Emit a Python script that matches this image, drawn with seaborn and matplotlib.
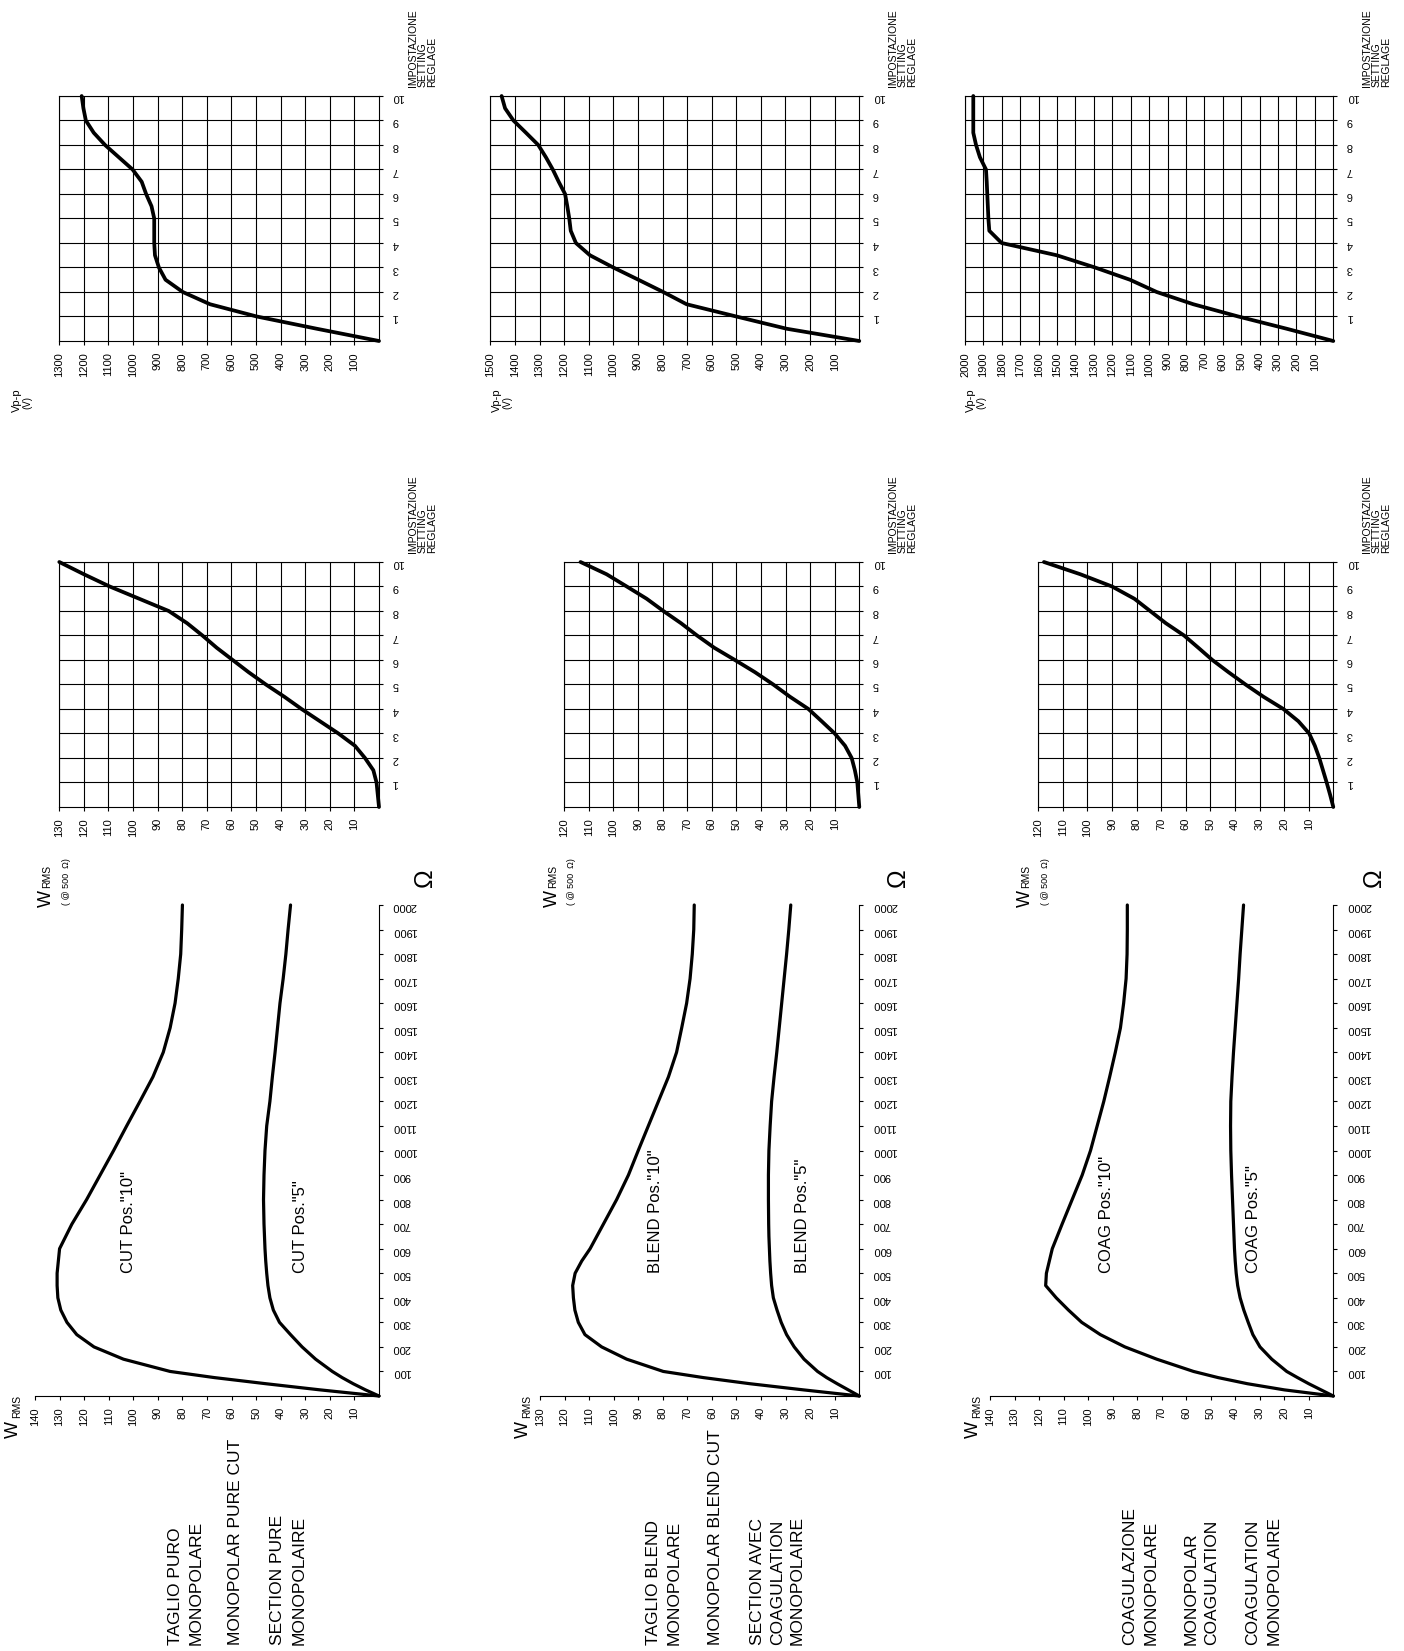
import matplotlib
matplotlib.use("Agg")
import matplotlib.pyplot as plt
import pandas as pd
import seaborn as sns

# ---------------- data ----------------
settings = [0, 0.5, 1, 1.5, 2, 2.5, 3, 3.5, 4, 4.5, 5, 5.5, 6, 6.5, 7, 7.5, 8, 8.5, 9, 9.5, 10]

cut_vpp = [0, 253, 497, 687, 798, 868, 895, 911, 914, 914, 914, 925, 947, 965, 1002, 1058, 1114, 1160, 1192, 1202, 1209]
blend_vpp = [0, 295, 500, 702, 797, 898, 1000, 1095, 1152, 1173, 1179, 1187, 1196, 1222, 1246, 1274, 1305, 1355, 1406, 1440, 1454]
coag_vpp = [0, 253, 516, 760, 959, 1104, 1294, 1502, 1801, 1868, 1873, 1876, 1879, 1882, 1886, 1919, 1940, 1955, 1955, 1955, 1955]

cut_w_set = [0, 0.5, 1.0, 2.3, 5.7, 9.8, 16.5, 24, 31.5, 38.5, 46, 53, 59.5, 66, 71.8, 78, 85.5, 97.5, 109.5, 120, 130]
blend_w_set = [0, 0.4, 0.8, 1.8, 3.1, 5.8, 10, 15.3, 20.7, 28.2, 35, 42.4, 50.6, 59, 66, 72.5, 79.7, 86.5, 94.6, 102.8, 113.4]
coag_w_set = [0, 1.3, 2.7, 4.2, 5.7, 7.5, 9.8, 14.2, 20.3, 28.4, 35.7, 42.6, 49.2, 54.9, 60.7, 68.1, 74.5, 80.9, 90, 102.9, 117.7]

ohms = [0, 25, 50, 75, 100, 150, 200, 250, 300, 350, 400, 450, 500, 550, 600, 650, 700,
        800, 900, 1000, 1100, 1200, 1300, 1400, 1500, 1600, 1700, 1800, 1900, 2000]

cut_w_pos10 = [0, 24, 46, 67, 85, 104, 116, 123, 127, 129.5, 130.7, 131, 131, 130.5, 130, 127.5, 125,
               119, 113.5, 108, 102.7, 97.3, 92, 87.8, 85, 83, 81.7, 80.7, 80.3, 80]
cut_w_pos5 = [0, 5.5, 10.5, 15, 19, 25.8, 31.3, 36, 40.5, 43, 44.4, 45.2, 45.7, 46.1, 46.4, 46.6, 46.8,
              47, 46.8, 46.4, 45.7, 44.4, 43.4, 42.3, 41.3, 40.3, 39, 37.9, 37, 36]
blend_w_pos10 = [0, 22.8, 44.5, 63.5, 79.8, 94.7, 104.9, 111.7, 114.4, 115.8, 116.4, 116.7, 115.7, 113, 109.6, 106.9, 104.2,
                 98.8, 94, 90, 85.9, 81.8, 77.7, 74.4, 72.3, 70.3, 68.9, 68, 67.4, 67.2]
blend_w_pos5 = [0, 4.5, 9, 13.3, 17, 22.5, 26.5, 29.6, 31.8, 33.5, 35, 35.7, 36.1, 36.4, 36.6, 36.8, 36.9,
                37, 37, 36.8, 36.3, 35.7, 34.7, 33.6, 32.6, 31.6, 30.6, 29.6, 28.7, 27.9]
coag_w_pos10 = [0, 20, 35, 47, 57, 72, 85, 95, 102.6, 108, 113, 117.3, 117, 115.8, 114.6, 112.6, 110.6,
                106.5, 102.4, 99, 96.3, 93.6, 91.2, 88.9, 86.8, 85.5, 84.5, 84.1, 84, 84]
coag_w_pos5 = [0, 5, 10, 14.6, 19, 25.1, 29.9, 32.8, 34.7, 36.5, 38, 39, 39.6, 40, 40.3, 40.5, 40.7,
               41.1, 41.5, 41.8, 41.9, 41.8, 41.3, 40.7, 40, 39.3, 38.6, 38, 37.3, 36.6]

vpp_max = [1300, 1500, 2000]
w_set_max = [130, 120, 120]
w_rms_max = [140, 130, 140]

curve_names_10 = ['CUT Pos."10"', 'BLEND Pos."10"', 'COAG Pos."10"']
curve_names_5 = ['CUT Pos."5"', 'BLEND Pos."5"', 'COAG Pos."5"']

mode_texts = [
    ["TAGLIO PURO", "MONOPOLARE", "MONOPOLAR PURE CUT", "SECTION PURE", "MONOPOLAIRE"],
    ["TAGLIO BLEND", "MONOPOLARE", "MONOPOLAR BLEND CUT", "SECTION AVEC", "COAGULATION", "MONOPOLAIRE"],
    ["COAGULAZIONE", "MONOPOLARE", "MONOPOLAR", "COAGULATION", "COAGULATION", "MONOPOLAIRE"],
]
setting_label = ["IMPOSTAZIONE", "SETTING", "REGLAGE"]

vpp_series = [cut_vpp, blend_vpp, coag_vpp]
wset_series = [cut_w_set, blend_w_set, coag_w_set]
pos10_series = [cut_w_pos10, blend_w_pos10, coag_w_pos10]
pos5_series = [cut_w_pos5, blend_w_pos5, coag_w_pos5]

# ---------------- layout (pixels) ----------------
W_PX, H_PX, DPI = 1404, 1651, 100
strip_right = [379.0, 859.3, 1333.3]
vpp_left = [59.3, 490.3, 965.0]
wset_left = [59.3, 564.3, 1038.3]
rms_left = [35.0, 540.0, 990.0]
VPP_TB = (96, 341)
WSET_TB = (562, 807)
RMS_TB = (905, 1396)

text_x = [
    [175, 196, 236, 278, 299],
    [653, 674, 715, 757, 778, 797],
    [1130, 1151, 1191, 1212, 1253, 1274],
]
label_w10 = [102, 83, 92.5]
label_w5 = [32, 23, 32.7]

sns.set_theme(style="ticks", rc={
    "axes.edgecolor": "black", "xtick.color": "black", "ytick.color": "black",
    "text.color": "black", "axes.labelcolor": "black", "axes.linewidth": 0.8,
})
plt.rcParams['font.family'] = ['Liberation Sans', 'DejaVu Sans']

fig = plt.figure(figsize=(W_PX / DPI, H_PX / DPI), dpi=DPI)
fig.patch.set_facecolor("white")


def fx(x):
    return x / W_PX


def fy(y):
    return 1 - y / H_PX


def add_ax(left, top, right, bottom):
    return fig.add_axes([fx(left), fy(bottom), (right - left) / W_PX, (bottom - top) / H_PX])


def ftext(x, y, s, size, ha="center", va="bottom", rot=90):
    fig.text(fx(x), fy(y), s, fontsize=size, ha=ha, va=va, rotation=rot, color="black")


def grid_chart(ax, xvals, xmax, xstep):
    df = pd.DataFrame({"x": xvals, "y": settings})
    sns.lineplot(data=df, x="x", y="y", ax=ax, estimator=None, sort=False, color="black",
                 lw=2.7, solid_capstyle="round", solid_joinstyle="round", zorder=3, clip_on=False)
    ax.set_xlim(xmax, 0)
    ax.set_ylim(0, 10)
    xt = list(range(xstep, xmax + 1, xstep))
    ax.set_xticks(xt)
    ax.set_xticklabels([str(v) for v in xt])
    yt = list(range(1, 11))
    ax.set_yticks(yt)
    ax.set_yticklabels([str(v) for v in yt])
    ax.yaxis.tick_right()
    ax.tick_params(axis="x", direction="out", length=3, width=0.8, pad=5, labelsize=8, labelrotation=90)
    ax.tick_params(axis="y", direction="out", length=3, width=0.8, pad=6.5, labelsize=8, labelrotation=180,
                   right=True, left=False, labelright=True, labelleft=False)
    ax.grid(True, color="black", lw=0.8)
    ax.set_axisbelow(True)
    for s in ax.spines.values():
        s.set_visible(True)
        s.set_color("black")
        s.set_linewidth(0.8)
    ax.set_xlabel("")
    ax.set_ylabel("")


for i in range(3):
    R = strip_right[i]
    # --- Vp-p vs setting ---
    ax1 = add_ax(vpp_left[i], VPP_TB[0], R, VPP_TB[1])
    grid_chart(ax1, vpp_series[i], vpp_max[i], 100)
    # --- W vs setting ---
    ax2 = add_ax(wset_left[i], WSET_TB[0], R, WSET_TB[1])
    grid_chart(ax2, wset_series[i], w_set_max[i], 10)
    # --- W vs load ---
    ax3 = add_ax(rms_left[i], RMS_TB[0], R, RMS_TB[1])
    n = len(ohms)
    df = pd.DataFrame({"ohm": ohms + ohms, "w": pos10_series[i] + pos5_series[i],
                       "pos": ["10"] * n + ["5"] * n})
    sns.lineplot(data=df, x="w", y="ohm", units="pos", estimator=None, sort=False, color="black",
                 lw=2.3, ax=ax3, solid_capstyle="round", solid_joinstyle="round", clip_on=False)
    ax3.set_xlim(w_rms_max[i], 0)
    ax3.set_ylim(0, 2000)
    xt = list(range(10, w_rms_max[i] + 1, 10))
    ax3.set_xticks(xt)
    ax3.set_xticklabels([str(v) for v in xt])
    yt = list(range(100, 2001, 100))
    ax3.set_yticks(yt)
    ax3.set_yticklabels([str(v) for v in yt])
    ax3.yaxis.tick_right()
    ax3.tick_params(axis="x", direction="out", length=3, width=0.8, pad=5, labelsize=8, labelrotation=90)
    ax3.tick_params(axis="y", direction="out", length=3, width=0.8, pad=6.5, labelsize=8, labelrotation=180,
                    right=True, left=False, labelright=True, labelleft=False)
    ax3.spines["top"].set_visible(False)
    ax3.spines["left"].set_visible(False)
    ax3.spines["right"].set_visible(True)
    ax3.grid(False)
    ax3.set_xlabel("")
    ax3.set_ylabel("")
    ax3.text(label_w10[i], 500, curve_names_10[i], rotation=90, ha="center", va="bottom", fontsize=12)
    ax3.text(label_w5[i], 500, curve_names_5[i], rotation=90, ha="center", va="bottom", fontsize=12)

    # --- setting axis captions ---
    for k, s in enumerate(setting_label):
        ftext(R + 34 + 9.5 * k, 87, s, 7.5)
        ftext(R + 34 + 9.5 * k, 553, s, 7.5)

    # --- Vp-p caption ---
    vx = R - 362
    ftext(vx, 412, "Vp-p", 8)
    ftext(vx + 10, 409, "(V)", 7)

    # --- W RMS (@ 500 Ohm) caption for W-setting chart ---
    wx = [46.5, 552, 1025][i]
    ftext(wx, 907, "W", 13)
    ftext(wx + 1, 888, "RMS", 7.5)
    ftext(wx + 20, 905, "( @ 500  Ω)", 6.5)

    # --- Ohm symbol ---
    ox = [425, 898, 1374][i]
    ftext(ox, 878, "Ω", 18, va="center")

    # --- W RMS caption for load chart ---
    bx = [13.5, 523, 973][i]
    ftext(bx, 1438, "W", 13)
    ftext(bx + 4, 1418, "RMS", 7.5)

    # --- mode description ---
    for s, x in zip(mode_texts[i], text_x[i]):
        ftext(x, 1645, s, 12.5)

fig.savefig("out.png", dpi=DPI, facecolor="white")
